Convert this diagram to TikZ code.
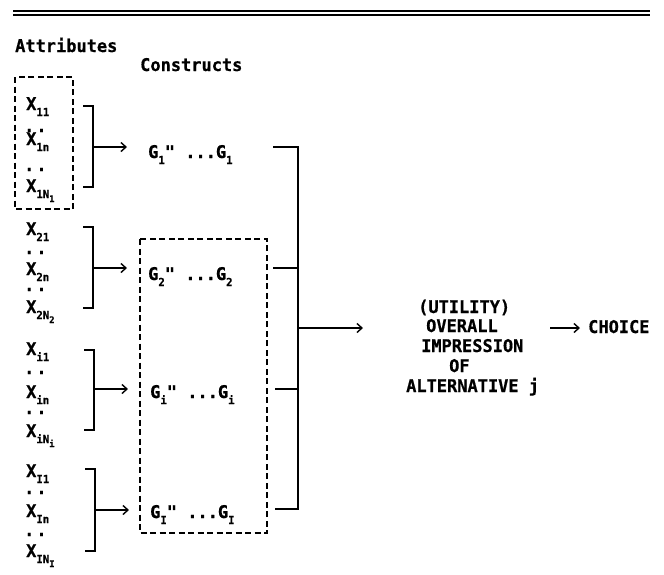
\documentclass[tikz,border=0pt]{standalone}
\usepackage{fontspec}
\usetikzlibrary{arrows.meta}
\newfontfamily\tw[FakeStretch=0.97,FakeBold=0.6]{DejaVu Sans Mono}
\newcommand\sbs[1]{\raisebox{-6pt}{\fontsize{11}{11}\selectfont #1}}
\newcommand\sbss[1]{\raisebox{-4pt}{\fontsize{9}{9}\selectfont #1}}
\newcommand\twodots{.\kern2pt.}
\begin{document}
\begin{tikzpicture}[x=1pt,y=-1pt,
  txt/.style={font=\tw\bfseries\fontsize{17.5}{17.5}\selectfont, inner sep=0pt, anchor=base west},
  ln/.style={line width=1.1pt},
  arr/.style={line width=1.1pt,-{Straight Barb[length=5pt,width=9pt,line width=1.4pt]}},
  dbox/.style={line width=1.5pt, dash pattern=on 6pt off 3.5pt}]
\useasboundingbox (0,0) rectangle (664,574);
% top rules
\coordinate (rA) at (13,11); \coordinate (rB) at (650,11);
\coordinate (rC) at (13,15); \coordinate (rD) at (650,15);
\draw[line width=2pt] (rA) -- (rB);
\draw[line width=1.4pt] (rC) -- (rD);
% headings
\node[txt] (attr) at (15,52) {Attributes};
\node[txt] (cons) at (140,71) {Constructs};
% group 1
\node[txt] (x11) at (26,110) {X\sbs{11}};
\node[txt] (d11) at (24,132) {\twodots};
\node[txt] (x1n) at (26,145) {X\sbs{1n}};
\node[txt] (d12) at (24,171) {\twodots};
\node[txt] (x1N) at (26,192) {X\sbs{1N\sbss{1}}};
% group 2
\node[txt] (x21) at (26,235) {X\sbs{21}};
\node[txt] (d21) at (24,254) {\twodots};
\node[txt] (x2n) at (26,275) {X\sbs{2n}};
\node[txt] (d22) at (24,291) {\twodots};
\node[txt] (x2N) at (26,313) {X\sbs{2N\sbss{2}}};
% group i
\node[txt] (xi1) at (26,355) {X\sbs{i1}};
\node[txt] (di1) at (24,374) {\twodots};
\node[txt] (xin) at (26,398) {X\sbs{in}};
\node[txt] (di2) at (24,414) {\twodots};
\node[txt] (xiN) at (26,437) {X\sbs{iN\sbss{i}}};
% group I
\node[txt] (xI1) at (26,477) {X\sbs{I1}};
\node[txt] (dI1) at (24,494) {\twodots};
\node[txt] (xIn) at (26,517) {X\sbs{In}};
\node[txt] (dI2) at (24,536) {\twodots};
\node[txt] (xIN) at (26,557) {X\sbs{IN\sbss{I}}};
% constructs
\node[txt] (g1) at (148,158) {G\sbs{1}" ...G\sbs{1}};
\node[txt] (g2) at (148,280) {G\sbs{2}" ...G\sbs{2}};
\node[txt] (gi) at (150,398) {G\sbs{i}" ...G\sbs{i}};
\node[txt] (gI) at (150,518) {G\sbs{I}" ...G\sbs{I}};
% dashed boxes
\coordinate (b1a) at (15,77); \coordinate (b1b) at (73,209);
\coordinate (b2a) at (140,239); \coordinate (b2b) at (267,533);
\draw[dbox] (b1a) rectangle (b1b);
\draw[dbox] (b2a) rectangle (b2b);
% brackets and arrows
\coordinate (k1t) at (83,106); \coordinate (k1s) at (93,147); \coordinate (k1b) at (83,187); \coordinate (k1e) at (127,147);
\coordinate (k2t) at (83,227); \coordinate (k2s) at (93,268); \coordinate (k2b) at (83,308); \coordinate (k2e) at (127,268);
\coordinate (k3t) at (84,350); \coordinate (k3s) at (94,389); \coordinate (k3b) at (84,430); \coordinate (k3e) at (128,389);
\coordinate (k4t) at (85,469); \coordinate (k4s) at (95,510); \coordinate (k4b) at (85,551); \coordinate (k4e) at (129,510);
\foreach \k in {1,2,3,4}{
  \draw[ln] (k\k t) -| (k\k s) |- (k\k b);
  \draw[arr] (k\k s) -- (k\k e);
}
% right collector
\coordinate (c1) at (273,147); \coordinate (c2) at (273,268);
\coordinate (c3) at (275,389); \coordinate (c4) at (275,509);
\coordinate (vt) at (298,147); \coordinate (vb) at (298,509);
\coordinate (v2) at (298,268); \coordinate (v3) at (298,389);
\coordinate (vm) at (298,328); \coordinate (ve) at (363,328);
\draw[ln] (c1) -- (vt) -- (vb) -- (c4);
\draw[ln] (c2) -- (v2);
\draw[ln] (c3) -- (v3);
\draw[arr] (vm) -- (ve);
% utility text
\node[txt] (u1) at (418,313) {(UTILITY)};
\node[txt] (u2) at (426,332) {OVERALL};
\node[txt] (u3) at (421,352) {IMPRESSION};
\node[txt] (u4) at (449,372) {OF};
\node[txt] (u5) at (406,392) {ALTERNATIVE j};
\coordinate (ch1) at (550,328); \coordinate (ch2) at (580,328);
\draw[arr] (ch1) -- (ch2);
\node[txt] (choice) at (588,333) {CHOICE};
\end{tikzpicture}
\end{document}
